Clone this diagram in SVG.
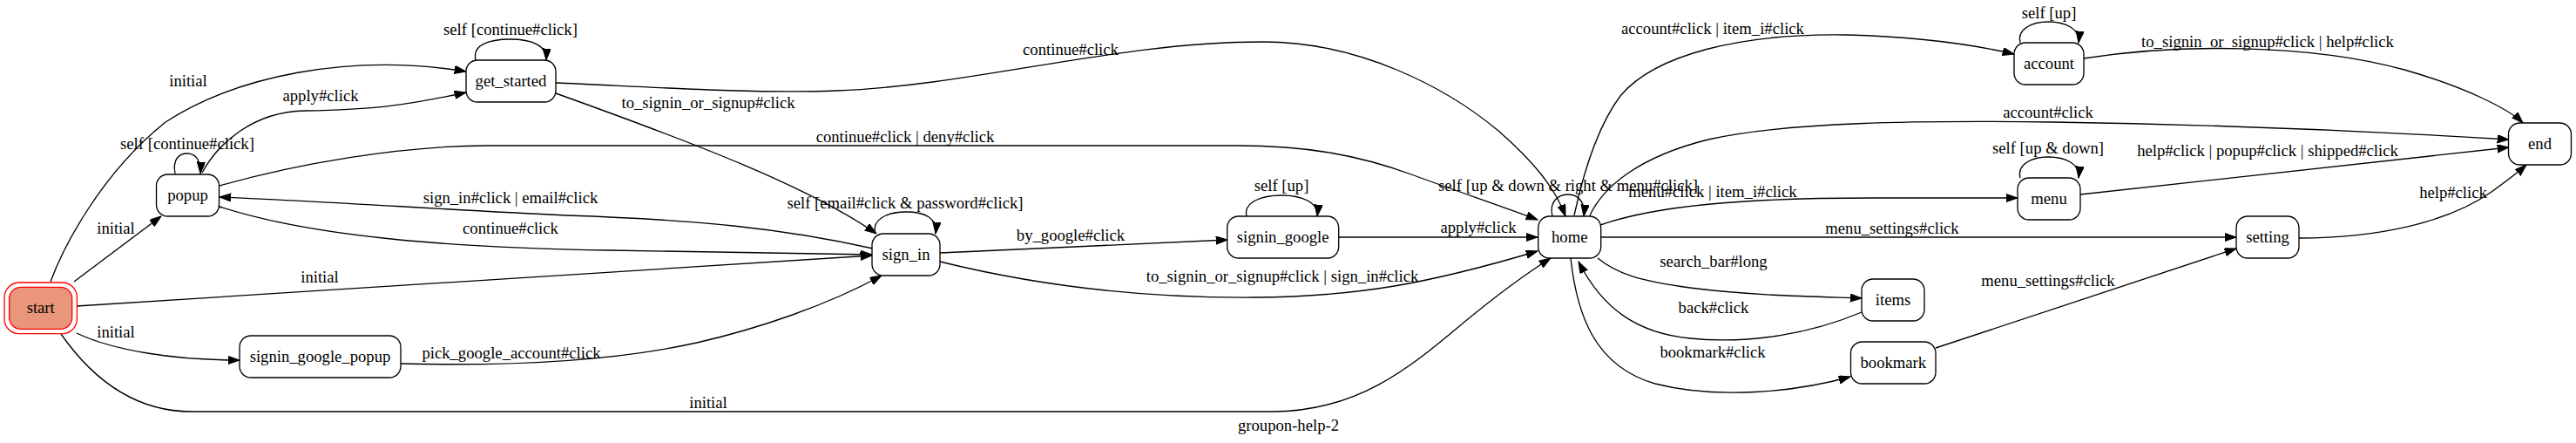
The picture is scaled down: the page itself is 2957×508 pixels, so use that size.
<svg xmlns="http://www.w3.org/2000/svg" width="2957" height="508" viewBox="0 0 2957 508">
<style>
text { font-family: "Liberation Serif", "Times New Roman", serif; font-size: 18.67px; text-anchor: middle; fill: #000; }
.n rect { fill: #fff; stroke: #000; stroke-width: 1.33; }
.e path { fill: none; stroke: #000; stroke-width: 1.33; marker-end: url(#ah); }
</style>
<defs>
<marker id="ah" markerUnits="userSpaceOnUse" markerWidth="14" markerHeight="10" refX="13.33" refY="4.67" orient="auto">
<path d="M0,0 L13.33,4.67 L0,9.33 Z" fill="#000" stroke="#000" stroke-width="1"/>
</marker>
</defs>
<rect x="0" y="0" width="2957" height="508" fill="#fff"/>

<g id="edges" class="e">
<path d="M58,323 C72,285 115,200 190,140 C270,88 400,60 535,82"/>
<path d="M85,323 L185,248"/>
<path d="M88,351 L1001,293"/>
<path d="M88,382 C130,402 200,413 275,413"/>
<path d="M70,383 C110,440 160,472 220,472 L1460,472 C1560,472 1620,420 1680,370 C1720,337 1758,310 1780,296"/>
<path d="M201,199 C198,183 205,176 215,176 C225,176 231,185 230,199"/>
<path d="M232,198 C250,165 290,128 350,127 C430,126 470,120 535,106"/>
<path d="M546,69 C542,52 560,45 586,45 C610,45 628,52 627,69"/>
<path d="M638,95 C720,98 860,108 960,104 C1120,98 1280,48 1450,48 C1560,48 1660,100 1720,150 C1760,185 1785,215 1797,248"/>
<path d="M638,107 C800,165 930,215 1006,268"/>
<path d="M252,213 C340,188 460,167 560,167 L1420,167 C1500,167 1560,178 1620,200 C1680,222 1720,235 1765,252"/>
<path d="M1002,285 C900,262 800,252 650,247 C500,240 380,231 252,226"/>
<path d="M252,237 C360,272 520,284 700,287 C800,289 900,291 1001,292"/>
<path d="M460,417 C580,420 700,415 800,393 C870,377 950,350 1012,316"/>
<path d="M1005,268 C1000,252 1018,243 1040,243 C1062,243 1076,250 1074,268"/>
<path d="M1079,290 L1409,275"/>
<path d="M1079,300 C1180,325 1300,342 1440,341 C1560,340 1640,325 1765,288"/>
<path d="M1431,248 C1427,232 1448,224 1471,224 C1494,224 1514,232 1512,248"/>
<path d="M1537,272 L1765,272"/>
<path d="M1782,248 C1778,232 1788,223 1800,223 C1812,223 1820,232 1818,248"/>
<path d="M1807,247 C1815,210 1830,150 1860,110 C1900,62 2000,38 2120,40 C2200,42 2260,50 2312,62"/>
<path d="M2319,49 C2315,33 2333,25 2351,25 C2371,25 2388,33 2386,49"/>
<path d="M2392,67 C2500,50 2650,50 2760,80 C2830,100 2880,125 2896,141"/>
<path d="M1825,247 C1840,215 1880,180 1961,160 C2050,140 2200,138 2356,140 C2550,143 2750,152 2880,160"/>
<path d="M1837,258 C1900,236 2000,227 2150,227 L2316,227"/>
<path d="M2319,204 C2315,188 2333,180 2351,180 C2371,180 2388,188 2386,204"/>
<path d="M2388,223 L2880,169"/>
<path d="M1837,272 L2567,272"/>
<path d="M2639,273 C2730,273 2810,255 2860,220 C2878,207 2890,198 2900,189"/>
<path d="M1834,296 C1855,313 1880,322 1940,330 C2010,339 2080,340 2137,342"/>
<path d="M2137,358 C2080,382 2010,395 1940,388 C1880,382 1840,355 1812,300"/>
<path d="M1803,296 C1810,360 1830,420 1900,440 C1970,458 2060,450 2124,432"/>
<path d="M2222,399 L2567,285"/>
</g>

<g id="edge-labels">
<text x="216" y="99">initial</text>
<text x="133" y="268">initial</text>
<text x="367" y="324">initial</text>
<text x="133" y="387">initial</text>
<text x="813" y="468">initial</text>
<text x="215" y="171">self [continue#click]</text>
<text x="368" y="116">apply#click</text>
<text x="586" y="40">self [continue#click]</text>
<text x="1229" y="63">continue#click</text>
<text x="813" y="124">to_signin_or_signup#click</text>
<text x="1039" y="163">continue#click | deny#click</text>
<text x="586" y="233">sign_in#click | email#click</text>
<text x="586" y="268">continue#click</text>
<text x="587" y="411">pick_google_account#click</text>
<text x="1039" y="239">self [email#click &amp; password#click]</text>
<text x="1229" y="276">by_google#click</text>
<text x="1472" y="323">to_signin_or_signup#click | sign_in#click</text>
<text x="1471" y="219">self [up]</text>
<text x="1697" y="267">apply#click</text>
<text x="1800" y="219">self [up &amp; down &amp; right &amp; menu#click]</text>
<text x="1966" y="39">account#click | item_i#click</text>
<text x="2352" y="21">self [up]</text>
<text x="2603" y="54">to_signin_or_signup#click | help#click</text>
<text x="2351" y="135">account#click</text>
<text x="1966" y="226">menu#click | item_i#click</text>
<text x="2351" y="176">self [up &amp; down]</text>
<text x="2603" y="179">help#click | popup#click | shipped#click</text>
<text x="2172" y="268">menu_settings#click</text>
<text x="2816" y="227">help#click</text>
<text x="1967" y="306">search_bar#long</text>
<text x="1967" y="359">back#click</text>
<text x="1966" y="410">bookmark#click</text>
<text x="2351" y="328">menu_settings#click</text>
</g>

<g id="start" class="n">
<rect x="5" y="324" width="83.4" height="58.7" rx="17" ry="17" style="fill:none;stroke:#ff0000"/>
<rect x="10.7" y="329.3" width="72" height="48" rx="13" ry="13" style="fill:#e9967a;stroke:#ff0000"/>
<text x="46.7" y="359">start</text>
</g>
<g id="popup" class="n"><rect x="179.5" y="200" width="72" height="48" rx="13" ry="13"/><text x="215.5" y="230">popup</text></g>
<g id="get_started" class="n"><rect x="535" y="69" width="103" height="48" rx="13" ry="13"/><text x="586.5" y="99">get_started</text></g>
<g id="signin_google_popup" class="n"><rect x="275" y="385" width="185" height="48" rx="13" ry="13"/><text x="367.5" y="415">signin_google_popup</text></g>
<g id="sign_in" class="n"><rect x="1001" y="268" width="78" height="48" rx="13" ry="13"/><text x="1040" y="298">sign_in</text></g>
<g id="signin_google" class="n"><rect x="1408.7" y="248" width="128" height="48" rx="13" ry="13"/><text x="1472.7" y="278">signin_google</text></g>
<g id="home" class="n"><rect x="1765.7" y="248" width="72" height="48" rx="13" ry="13"/><text x="1801.7" y="278">home</text></g>
<g id="items" class="n"><rect x="2137" y="320" width="72" height="48" rx="13" ry="13"/><text x="2173" y="350">items</text></g>
<g id="bookmark" class="n"><rect x="2124.5" y="392" width="97.5" height="48" rx="13" ry="13"/><text x="2173.3" y="422">bookmark</text></g>
<g id="account" class="n"><rect x="2312" y="49" width="80" height="48" rx="13" ry="13"/><text x="2352" y="79">account</text></g>
<g id="menu" class="n"><rect x="2316" y="204" width="72" height="48" rx="13" ry="13"/><text x="2352" y="234">menu</text></g>
<g id="setting" class="n"><rect x="2567" y="248" width="72" height="48" rx="13" ry="13"/><text x="2603" y="278">setting</text></g>
<g id="end" class="n"><rect x="2879.5" y="141" width="72" height="48" rx="13" ry="13"/><text x="2915.5" y="171">end</text></g>

<text id="graph-title" x="1479" y="494">groupon-help-2</text>
</svg>
